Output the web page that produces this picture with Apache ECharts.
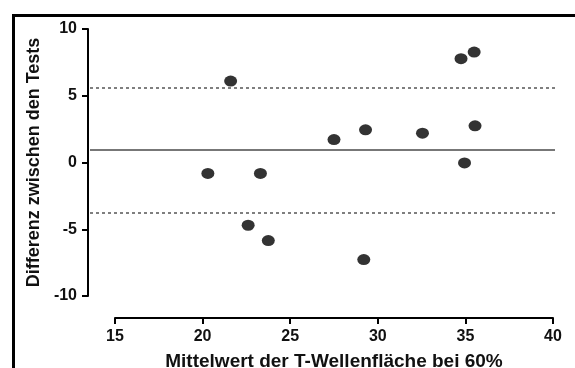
<!DOCTYPE html>
<html>
<head>
<meta charset="utf-8">
<script src="https://cdn.jsdelivr.net/npm/echarts@6/dist/echarts.min.js"></script>
<style>
html,body{margin:0;padding:0;background:#fff;}
#c{width:575px;height:368px;}
</style>
</head>
<body>
<div id="c"></div>
<script>
// Bland-Altman data (mean of tests, difference between tests)
var meanValues = [20.3, 21.6, 22.6, 23.3, 23.75, 27.5, 29.2, 29.3, 32.55, 34.75, 34.95, 35.5, 35.55];
var diffValues = [-0.82, 6.1, -4.7, -0.82, -5.85, 1.72, -7.27, 2.45, 2.2, 7.78, -0.03, 8.27, 2.75];
var biasValue = 0.92;
var upperLimit = 5.6;
var lowerLimit = -3.76;
var xTicks = [15, 20, 25, 30, 35, 40];
var yTicks = [-10, -5, 0, 5, 10];
var xTitle = 'Mittelwert der T-Wellenfläche bei 60%';
var yTitle = 'Differenz zwischen den Tests';

var points = meanValues.map(function (m, i) { return [m, diffValues[i]]; });
function hline(v, style) {
  return [{x: 90, yAxis: v, lineStyle: style}, {x: 555, yAxis: v}];
}
var solidStyle = {color: '#777', width: 2, type: 'solid'};
var dashStyle = {color: '#555', width: 1.5, type: [3, 3]};

var chart = echarts.init(document.getElementById('c'), null, {renderer: 'canvas'});
var font = 'Liberation Sans, Arial, sans-serif';
chart.setOption({
  animation: false,
  backgroundColor: '#fff',
  grid: {left: 115, right: 22, top: 29, bottom: 72, containLabel: false, outerBoundsMode: 'none'},
  graphic: [{
    type: 'polyline',
    shape: {points: [[13.5, 400], [13.5, 15.5], [600, 15.5]]},
    style: {stroke: '#000', lineWidth: 3, fill: null}
  }],
  xAxis: {
    type: 'value', min: xTicks[0], max: xTicks[xTicks.length - 1], interval: 5,
    offset: 22,
    name: xTitle, nameLocation: 'middle', nameGap: 34,
    nameTextStyle: {fontFamily: font, fontWeight: 'bold', fontSize: 19, color: '#111'},
    axisLine: {show: true, onZero: false, lineStyle: {color: '#000', width: 2}},
    axisTick: {show: true, length: 6, lineStyle: {color: '#000', width: 2}},
    axisLabel: {margin: 11, fontFamily: font, fontWeight: 'bold', fontSize: 16, color: '#111'},
    splitLine: {show: false}
  },
  yAxis: {
    type: 'value', min: yTicks[0], max: yTicks[yTicks.length - 1], interval: 5,
    offset: 27,
    name: yTitle, nameLocation: 'middle', nameGap: 43, nameRotate: 90,
    nameTextStyle: {fontFamily: font, fontWeight: 'bold', fontSize: 18, color: '#111'},
    axisLine: {show: true, onZero: false, lineStyle: {color: '#000', width: 2}},
    axisTick: {show: true, length: 6, lineStyle: {color: '#000', width: 2}},
    axisLabel: {margin: 11, fontFamily: font, fontWeight: 'bold', fontSize: 16, color: '#111'},
    splitLine: {show: false}
  },
  series: [
    {type: 'scatter', data: points, symbol: 'circle', symbolSize: [13, 11],
     itemStyle: {color: '#000'}, z: 5,
     markLine: {
       silent: true, symbol: ['none', 'none'], label: {show: false}, animation: false,
       emphasis: {disabled: true},
       data: [hline(biasValue, solidStyle), hline(upperLimit, dashStyle), hline(lowerLimit, dashStyle)]
     }}
  ]
});
</script>
</body>
</html>
